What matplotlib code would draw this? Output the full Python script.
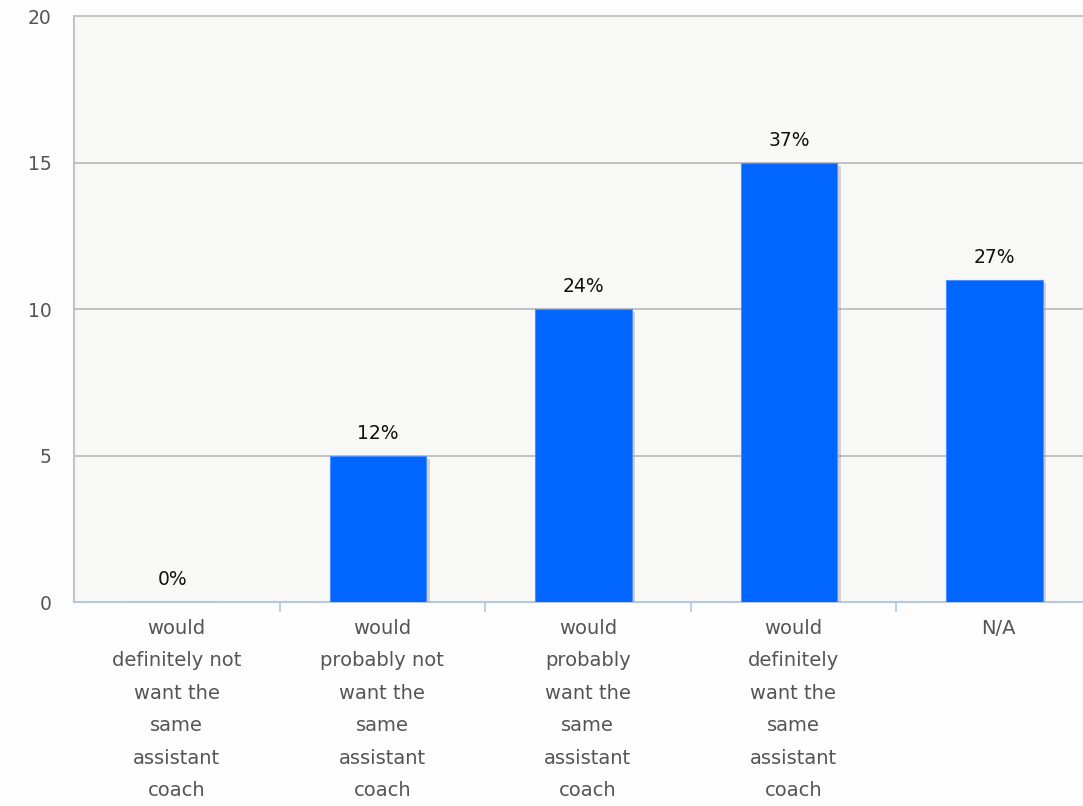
import numpy as np
import matplotlib.pyplot as plt
import matplotlib.patheffects as pe

categories = ["would\ndefinitely not\nwant the\nsame\nassistant\ncoach",
              "would\nprobably not\nwant the\nsame\nassistant\ncoach",
              "would\nprobably\nwant the\nsame\nassistant\ncoach",
              "would\ndefinitely\nwant the\nsame\nassistant\ncoach",
              "N/A"]
counts = [0, 5, 10, 15, 11]
percent_labels = ["0%", "12%", "24%", "37%", "27%"]

plt.rcParams['font.family'] = ['DejaVu Sans']

fig = plt.figure(figsize=(10.83, 8.06), dpi=100, facecolor='#fdfdfd')
W, H = 1083, 806
ax = fig.add_axes([74 / W, 1 - 602 / H, (1101.5 - 74) / W, (602 - 16) / H])
ax.set_facecolor('#f8f8f7')

x = np.arange(len(counts))
shadow = [pe.SimplePatchShadow(offset=(2.5, -2.5), shadow_rgbFace='#9a9a9a', alpha=0.4), pe.Normal()]
bars = ax.bar(x - 0.02, counts, width=0.47, color='#0066ff', edgecolor='#4d8fff',
              linewidth=0.8, zorder=3, path_effects=shadow)

for xi, c, lab in zip(x, counts, percent_labels):
    ax.annotate(lab, (xi - 0.02, c), xytext=(0, 16), textcoords='offset points',
                ha='center', va='center', fontsize=13.5, color='#111111')

ax.set_xlim(-0.5, len(counts) - 0.5)
ax.set_ylim(0, 20)
ax.set_yticks([0, 5, 10, 15, 20])
ax.yaxis.grid(True, color='#b8b8b8', linewidth=1.2, zorder=0)
ax.set_axisbelow(True)
ax.tick_params(axis='y', length=0, pad=16, labelsize=13.5, labelcolor='#555555')

ax.set_xticks(x)
ax.set_xticklabels(categories, fontsize=14, color='#555555', linespacing=1.9, va='top')
ax.tick_params(axis='x', length=0, pad=12)
ax.set_xticks(np.arange(len(counts)) + 0.5, minor=True)
ax.tick_params(axis='x', which='minor', length=7, width=1.2, color='#b5c8dc', direction='out')

ax.spines['left'].set_color('#c4c4c4')
ax.spines['left'].set_linewidth(1.5)
ax.spines['top'].set_color('#c8c8c8')
ax.spines['top'].set_linewidth(1.5)
ax.spines['right'].set_visible(False)
ax.spines['bottom'].set_color('#b5c8dc')
ax.spines['bottom'].set_linewidth(1.5)

fig.savefig('out.png', dpi=100, facecolor=fig.get_facecolor())
